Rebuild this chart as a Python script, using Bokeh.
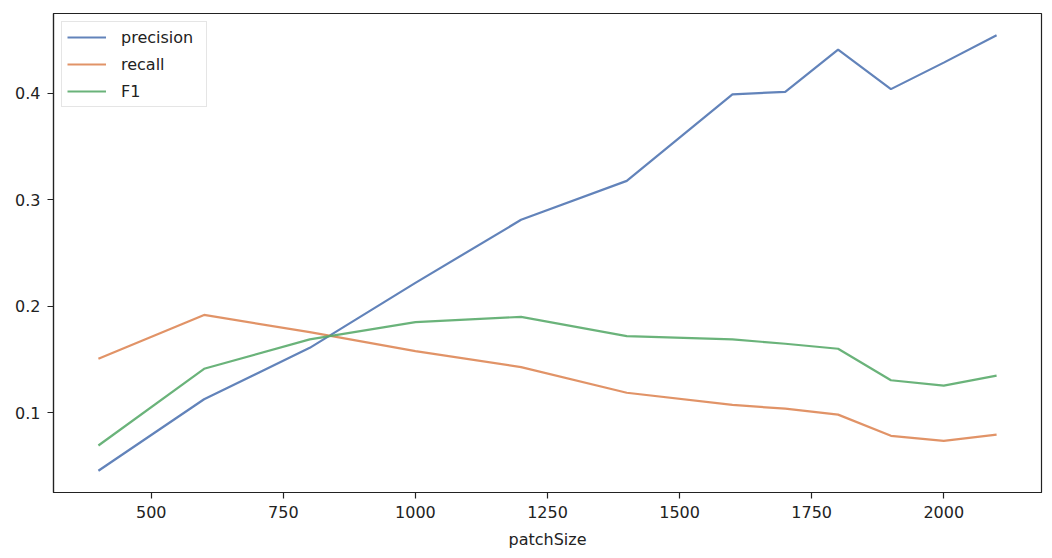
from bokeh.plotting import figure
from bokeh.models import Range1d, FixedTicker, Legend, LegendItem
from bokeh.embed import file_html
from bokeh.resources import INLINE

patch_size = [400, 600, 800, 1000, 1200, 1400, 1600, 1700, 1800, 1900, 2000, 2100]
precision = [0.0455, 0.1127, 0.161, 0.222, 0.2813, 0.3179, 0.3991, 0.4016, 0.4412, 0.4041, 0.429, 0.4547]
recall = [0.1507, 0.1919, 0.1757, 0.1579, 0.1429, 0.1188, 0.1073, 0.1038, 0.0982, 0.0783, 0.0736, 0.0795]
f1 = [0.0692, 0.1413, 0.1689, 0.1851, 0.1901, 0.1720, 0.1689, 0.1648, 0.1601, 0.1305, 0.1254, 0.1348]

x_ticks = [500, 750, 1000, 1250, 1500, 1750, 2000]
y_ticks = [0.1, 0.2, 0.3, 0.4]
series_names = ["precision", "recall", "F1"]
colors = ["#4C72B0", "#DD8452", "#55A868"]

# matplotlib-like 5% margins
xmin, xmax = min(patch_size), max(patch_size)
allv = precision + recall + f1
ymin, ymax = min(allv), max(allv)
xm = (xmax - xmin) * 0.05
ym = (ymax - ymin) * 0.05

FONT = "DejaVu Sans"
FS = "16px"
TXT = "#222222"

p = figure(frame_width=988, frame_height=479,
           min_border_left=53, min_border_top=13, min_border_right=10, min_border_bottom=60,
           x_range=Range1d(xmin - xm, xmax + xm), y_range=Range1d(ymin - ym, ymax + ym),
           output_backend="svg", toolbar_location=None)

p.xgrid.visible = False
p.ygrid.visible = False
p.outline_line_color = "#222222"
p.outline_line_width = 1.2
p.background_fill_color = "white"
p.border_fill_color = "white"

for ax in (p.xaxis[0], p.yaxis[0]):
    ax.axis_line_color = "#222222"
    ax.axis_line_width = 1.2
    ax.major_tick_line_color = "#222222"
    ax.major_tick_line_width = 1.2
    ax.major_tick_out = 6
    ax.major_tick_in = 0
    ax.minor_tick_line_color = None
    ax.major_label_text_font = FONT
    ax.major_label_text_font_size = FS
    ax.major_label_text_color = TXT

p.xaxis.major_label_standoff = 7
p.yaxis.major_label_standoff = 7
p.xaxis.ticker = FixedTicker(ticks=x_ticks)
p.yaxis.ticker = FixedTicker(ticks=y_ticks)
p.xaxis.axis_label = "patchSize"
p.xaxis.axis_label_text_font = FONT
p.xaxis.axis_label_text_font_size = FS
p.xaxis.axis_label_text_font_style = "normal"
p.xaxis.axis_label_text_color = TXT
p.xaxis.axis_label_standoff = 9

items = []
for name, vals, c in zip(series_names, [precision, recall, f1], colors):
    r = p.line(patch_size, vals, line_color=c, line_width=2.2, line_alpha=0.88)
    items.append(LegendItem(label=name, renderers=[r]))

legend = Legend(items=items, location="top_left")
legend.margin = 8
legend.padding = 5
legend.spacing = 7
legend.glyph_width = 39
legend.glyph_height = 20
legend.label_height = 20
legend.label_width = 80
legend.label_standoff = 15
legend.label_text_font = FONT
legend.label_text_font_size = FS
legend.label_text_color = TXT
legend.border_line_color = "#cccccc"
legend.border_line_width = 1
legend.background_fill_alpha = 0.8
p.add_layout(legend, "center")

open("out.html", "w").write(file_html(p, INLINE))
